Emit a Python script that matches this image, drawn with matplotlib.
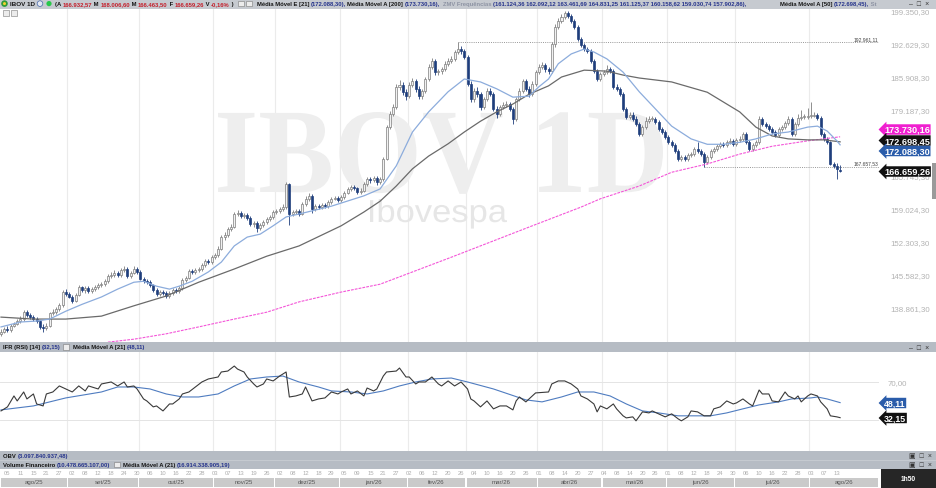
import matplotlib
matplotlib.use("Agg")
import matplotlib.pyplot as plt
import matplotlib.transforms as mtransforms
from matplotlib.patches import Rectangle, Circle, PathPatch
from matplotlib.textpath import TextPath
from matplotlib.font_manager import FontProperties

plt.rcParams['font.family'] = ['Liberation Sans', 'DejaVu Sans']

# ---------------- cotações diárias IBOV (milhares de pontos) ----------------
abertura = [
    133.6, 134.0, 134.6, 134.4, 135.2, 135.6, 136.2, 136.6, 138.0, 137.4,
    137.0, 136.6, 136.2, 135.0, 134.8, 135.2, 137.8, 138.0, 138.6, 139.4,
    142.1, 141.7, 141.1, 140.3, 141.5, 143.1, 142.5, 142.9, 142.3, 142.7,
    143.1, 143.5, 143.7, 144.3, 145.4, 145.6, 146.0, 145.6, 146.6, 146.8,
    145.4, 146.0, 146.8, 146.2, 144.8, 144.3, 144.1, 143.5, 142.5, 141.7,
    142.1, 141.9, 141.3, 141.9, 142.5, 142.3, 142.9, 144.5, 145.0, 146.4,
    146.2, 146.6, 146.8, 147.6, 148.4, 148.2, 149.2, 149.6, 150.9, 153.3,
    153.7, 154.9, 155.4, 158.0, 158.2, 157.6, 157.8, 157.2, 155.9, 156.1,
    155.1, 155.7, 156.3, 157.0, 157.4, 158.4, 158.6, 159.0, 159.4, 164.1,
    158.0, 158.4, 158.6, 158.0, 160.0, 161.1, 161.7, 159.0, 159.6, 159.4,
    159.8, 159.6, 160.5, 161.1, 161.3, 160.9, 161.5, 162.3, 163.1, 163.5,
    163.3, 162.5, 162.7, 164.1, 165.1, 164.9, 165.3, 164.5, 165.1, 169.2,
    175.7, 178.4, 179.8, 183.9, 184.3, 182.8, 182.0, 184.3, 185.1, 183.5,
    182.0, 183.1, 185.5, 188.0, 189.2, 186.9, 187.1, 187.5, 188.6, 189.2,
    189.6, 191.0, 191.6, 191.2, 190.0, 184.5, 181.4, 183.1, 182.4, 179.8,
    181.4, 183.1, 182.4, 179.4, 178.4, 179.8, 180.2, 180.4, 179.4, 177.4,
    181.4, 183.1, 185.1, 183.5, 182.4, 184.5, 186.9, 188.0, 188.4, 187.5,
    187.1, 192.6, 196.1, 197.3, 198.1, 198.9, 198.3, 197.3, 196.1, 193.6,
    192.4, 191.6, 191.2, 189.2, 187.1, 185.5, 186.5, 186.9, 187.5, 187.1,
    183.9, 183.5, 182.4, 179.4, 177.8, 178.2, 177.4, 176.3, 174.3, 175.7,
    176.9, 177.4, 177.4, 176.7, 175.3, 174.7, 173.7, 172.7, 172.1, 170.8,
    169.2, 169.6, 169.2, 170.0, 170.2, 171.2, 170.8, 170.2, 168.6, 169.6,
    170.8, 171.2, 171.8, 172.2, 172.0, 172.6, 172.9, 172.2, 173.1, 173.3,
    174.3, 172.6, 171.2, 172.0, 172.6, 177.4, 176.3, 175.9, 175.3, 174.7,
    174.1, 175.3, 175.7, 176.5, 177.4, 174.3, 176.3, 177.6, 177.8, 177.8,
    178.0, 178.0, 178.2, 177.6, 174.3, 173.3, 172.6, 168.2, 167.8, 166.93257,
]
maxima = [
    134.5, 135.0, 135.1, 135.6, 136.0, 136.6, 137.2, 138.5, 138.4, 137.8,
    137.4, 137.1, 136.5, 135.6, 135.7, 138.1, 138.6, 139.0, 139.8, 142.6,
    142.8, 142.2, 141.5, 141.9, 143.6, 143.4, 143.3, 143.3, 143.1, 143.6,
    143.9, 144.1, 144.7, 145.8, 146.1, 146.5, 146.4, 147.1, 147.5, 147.2,
    146.4, 147.4, 147.2, 146.5, 145.2, 144.8, 144.5, 143.8, 142.9, 142.6,
    142.5, 142.3, 142.3, 142.9, 142.9, 143.3, 144.9, 145.4, 146.8, 146.9,
    147.0, 147.2, 148.0, 148.9, 148.8, 149.6, 150.0, 151.4, 153.7, 154.3,
    155.3, 155.9, 158.5, 158.8, 158.6, 158.3, 158.2, 157.5, 156.6, 156.5,
    156.1, 156.7, 157.4, 157.8, 158.8, 159.0, 159.4, 160.0, 164.6, 164.4,
    158.9, 159.1, 159.0, 160.4, 161.6, 162.3, 162.0, 160.0, 160.0, 160.2,
    160.2, 160.9, 161.5, 161.7, 161.7, 161.9, 162.7, 163.5, 163.9, 164.0,
    163.6, 163.2, 164.5, 165.6, 165.6, 165.8, 165.7, 165.5, 169.7, 176.2,
    178.9, 180.4, 184.4, 185.2, 184.8, 183.4, 184.8, 185.8, 185.5, 184.0,
    183.5, 186.0, 188.5, 189.8, 189.6, 187.6, 188.0, 189.1, 189.7, 190.2,
    191.5, 192.96111, 192.3, 191.7, 190.4, 185.0, 183.6, 183.8, 182.9, 181.9,
    183.6, 183.7, 182.8, 179.9, 180.3, 180.8, 181.0, 180.9, 179.8, 181.9,
    183.6, 185.6, 185.5, 184.0, 185.0, 187.4, 188.6, 189.0, 188.8, 188.0,
    193.1, 196.6, 197.9, 198.8, 199.4, 199.3, 198.8, 197.7, 196.5, 194.0,
    192.8, 192.0, 191.6, 189.6, 187.5, 187.0, 187.4, 188.4, 188.0, 187.5,
    184.4, 183.9, 182.8, 179.8, 178.7, 178.7, 177.9, 176.7, 176.2, 177.7,
    177.9, 177.9, 177.8, 177.1, 175.7, 175.2, 174.1, 173.1, 172.5, 171.2,
    170.0, 170.1, 170.4, 170.7, 171.6, 172.6, 171.2, 170.6, 170.0, 171.2,
    171.7, 172.3, 172.6, 172.6, 173.1, 173.4, 173.3, 173.5, 173.8, 174.8,
    174.7, 173.0, 172.4, 173.0, 177.9, 177.8, 176.7, 176.3, 175.7, 175.1,
    175.7, 176.1, 176.9, 177.9, 177.8, 176.7, 178.4, 179.2, 178.3, 179.6,
    180.8, 178.7, 178.6, 177.9, 174.7, 173.7, 172.9, 168.6, 168.3, 168.00660,
]
minima = [
    133.1, 133.7, 134.0, 134.0, 134.9, 135.3, 135.9, 136.3, 137.0, 136.6,
    136.2, 135.8, 134.5, 134.0, 134.4, 134.9, 137.4, 137.6, 138.3, 139.1,
    141.3, 140.8, 139.9, 140.0, 141.2, 142.1, 142.0, 141.9, 141.9, 142.4,
    142.7, 143.1, 143.4, 144.0, 145.0, 145.2, 145.2, 145.2, 146.2, 145.0,
    145.0, 145.7, 145.8, 144.5, 143.9, 143.7, 143.1, 142.1, 141.2, 141.3,
    141.5, 140.9, 140.9, 141.5, 141.9, 141.9, 142.6, 144.1, 144.7, 145.8,
    145.8, 146.2, 146.4, 147.3, 147.8, 147.9, 148.8, 149.3, 150.6, 152.8,
    153.3, 154.5, 155.1, 157.5, 157.2, 157.2, 156.8, 155.5, 155.4, 154.4,
    154.7, 155.3, 155.9, 156.6, 157.0, 158.0, 158.2, 158.6, 159.0, 155.8,
    157.5, 158.0, 157.6, 157.7, 159.6, 160.7, 158.3, 158.6, 159.0, 159.0,
    159.2, 159.3, 160.1, 160.8, 160.5, 160.5, 161.1, 162.0, 162.7, 162.9,
    162.1, 162.1, 162.4, 163.7, 164.4, 164.5, 164.0, 164.2, 164.8, 168.9,
    175.3, 177.9, 179.4, 183.3, 182.3, 181.3, 181.6, 183.9, 182.9, 181.5,
    181.5, 182.7, 185.1, 187.6, 186.4, 186.3, 186.6, 187.1, 188.1, 188.7,
    189.1, 190.5, 190.6, 189.5, 184.0, 180.9, 180.9, 181.9, 179.2, 179.4,
    181.0, 182.0, 179.0, 177.6, 178.0, 179.3, 179.7, 178.9, 176.3, 177.0,
    181.0, 182.7, 183.0, 181.9, 182.0, 184.1, 186.5, 187.5, 187.0, 186.6,
    186.8, 192.1, 195.7, 196.9, 197.7, 197.9, 196.9, 195.7, 193.2, 192.0,
    191.2, 190.8, 188.8, 186.7, 185.1, 185.1, 186.1, 186.5, 186.7, 183.5,
    183.0, 182.0, 179.0, 177.3, 177.3, 177.0, 175.9, 173.9, 173.9, 175.3,
    176.5, 176.9, 176.3, 174.9, 174.2, 173.3, 172.3, 171.7, 170.4, 168.8,
    168.8, 168.8, 168.8, 169.6, 169.8, 170.4, 169.8, 167.65753, 168.2, 169.2,
    170.4, 170.8, 171.4, 171.6, 171.6, 172.2, 171.8, 171.8, 172.7, 172.9,
    172.2, 170.8, 170.8, 171.6, 172.2, 175.9, 175.5, 174.9, 174.3, 173.7,
    173.7, 174.9, 175.3, 176.1, 173.9, 173.9, 175.9, 177.2, 177.3, 177.4,
    177.5, 177.7, 177.2, 173.9, 172.9, 172.2, 167.9, 167.3, 165.2, 166.46350,
]
fechamento = [
    134.0, 134.6, 134.4, 135.2, 135.6, 136.2, 136.6, 138.0, 137.4, 137.0,
    136.6, 136.2, 135.0, 134.8, 135.2, 137.8, 138.0, 138.6, 139.4, 142.1,
    141.7, 141.1, 140.3, 141.5, 143.1, 142.5, 142.9, 142.3, 142.7, 143.1,
    143.5, 143.7, 144.3, 145.4, 145.6, 146.0, 145.6, 146.6, 146.8, 145.4,
    146.0, 146.8, 146.2, 144.8, 144.3, 144.1, 143.5, 142.5, 141.7, 142.1,
    141.9, 141.3, 141.9, 142.5, 142.3, 142.9, 144.5, 145.0, 146.4, 146.2,
    146.6, 146.8, 147.6, 148.4, 148.2, 149.2, 149.6, 150.9, 153.3, 153.7,
    154.9, 155.4, 158.0, 158.2, 157.6, 157.8, 157.2, 155.9, 156.1, 155.1,
    155.7, 156.3, 157.0, 157.4, 158.4, 158.6, 159.0, 159.4, 164.1, 158.0,
    158.4, 158.6, 158.0, 160.0, 161.1, 161.7, 159.0, 159.6, 159.4, 159.8,
    159.6, 160.5, 161.1, 161.3, 160.9, 161.5, 162.3, 163.1, 163.5, 163.3,
    162.5, 162.7, 164.1, 165.1, 164.9, 165.3, 164.5, 165.1, 169.2, 175.7,
    178.4, 179.8, 183.9, 184.3, 182.8, 182.0, 184.3, 185.1, 183.5, 182.0,
    183.1, 185.5, 188.0, 189.2, 186.9, 187.1, 187.5, 188.6, 189.2, 189.6,
    191.0, 191.6, 191.2, 190.0, 184.5, 181.4, 183.1, 182.4, 179.8, 181.4,
    183.1, 182.4, 179.4, 178.4, 179.8, 180.2, 180.4, 179.4, 177.4, 181.4,
    183.1, 185.1, 183.5, 182.4, 184.5, 186.9, 188.0, 188.4, 187.5, 187.1,
    192.6, 196.1, 197.3, 198.1, 198.9, 198.3, 197.3, 196.1, 193.6, 192.4,
    191.6, 191.2, 189.2, 187.1, 185.5, 186.5, 186.9, 187.5, 187.1, 183.9,
    183.5, 182.4, 179.4, 177.8, 178.2, 177.4, 176.3, 174.3, 175.7, 176.9,
    177.4, 177.4, 176.7, 175.3, 174.7, 173.7, 172.7, 172.1, 170.8, 169.2,
    169.6, 169.2, 170.0, 170.2, 171.2, 170.8, 170.2, 168.6, 169.6, 170.8,
    171.2, 171.8, 172.2, 172.0, 172.6, 172.9, 172.2, 173.1, 173.3, 174.3,
    172.6, 171.2, 172.0, 172.6, 177.4, 176.3, 175.9, 175.3, 174.7, 174.1,
    175.3, 175.7, 176.5, 177.4, 174.3, 176.3, 177.6, 177.8, 177.8, 178.0,
    178.0, 178.2, 177.6, 174.3, 173.3, 172.6, 168.2, 167.8, 167.2, 166.65926,
]

# meses e pregões por mês
meses = ["ago/25", "set/25", "out/25", "nov/25", "dez/25", "jan/26", "fev/26",
         "mar/26", "abr/26", "mai/26", "jun/26", "jul/26", "ago/26"]
pregoes_mes = [21, 22, 23, 19, 20, 21, 18, 22, 20, 20, 21, 23, 10]
dias_rotulo = ["05", "11", "15", "21", "27", "02", "08", "12", "18", "24", "30",
               "06", "10", "16", "22", "28", "03", "07", "13", "19", "26",
               "02", "08", "12", "18", "29", "05", "09", "15", "21", "27",
               "02", "06", "12", "20", "26", "04", "10", "16", "20", "26",
               "01", "08", "14", "20", "27", "04", "08", "14", "20", "26",
               "01", "08", "12", "18", "24", "30", "06", "10", "16", "22", "28",
               "03", "07", "13"]

# médias móveis (pregão, valor)
mme21_x = [0, 6, 11, 15, 20, 25, 31, 36, 41, 44, 48, 52, 55, 59, 64, 68, 72, 76, 80, 84,
           88, 92, 102, 112, 117, 122, 127, 132, 138, 143, 148, 153, 158, 163, 166, 169,
           172, 176, 180, 183, 187, 192, 197, 202, 207, 213, 218, 223, 228, 233, 238, 243,
           249, 252, 255, 258, 259]
mme21 = [135.0, 136.0, 136.2, 136.6, 138.2, 139.6, 141.1, 142.7, 144.1, 144.3, 143.3,
         142.7, 143.3, 144.3, 146.2, 148.2, 151.5, 153.3, 153.9, 155.6, 157.4, 158.0,
         159.6, 161.7, 163.1, 167.8, 174.7, 178.8, 182.9, 185.5, 184.9, 183.5, 181.8,
         182.0, 183.9, 185.5, 188.6, 190.6, 191.6, 191.0, 189.6, 186.9, 182.9, 179.4,
         175.9, 173.3, 172.2, 172.2, 172.6, 173.3, 174.3, 174.7, 175.7, 175.9, 174.9,
         172.9, 172.0883]
mma50_x = [0, 10, 20, 31, 41, 51, 61, 72, 82, 92, 105, 112, 117, 122, 127, 132, 138, 143,
           148, 153, 158, 163, 169, 173, 180, 187, 192, 197, 207, 218, 228, 233, 238, 243,
           249, 254, 259]
mma50 = [137.0, 136.6, 136.6, 137.2, 139.3, 141.3, 144.1, 146.8, 149.4, 151.5, 155.6,
         158.4, 160.6, 163.7, 167.2, 169.8, 172.3, 174.7, 176.9, 178.8, 180.4, 182.4,
         184.1, 185.9, 187.3, 187.1, 186.3, 185.7, 184.9, 182.8, 178.8, 175.7, 173.9,
         173.3, 173.1, 173.1, 172.69845]
mma200_x = [33, 41, 51, 61, 72, 82, 92, 105, 117, 139, 164, 179, 185, 197, 207, 218, 228,
            238, 249, 259]
mma200 = [131.9, 132.5, 133.6, 135.0, 136.6, 138.0, 140.1, 142.1, 143.7, 149.2, 155.6,
          159.4, 161.1, 163.7, 166.5, 168.2, 170.2, 171.8, 172.9, 173.73016]

# IFR (14) e sua média (21)
ifr_x = [0, 2, 4, 5, 7, 8, 10, 11, 13, 14, 16, 18, 20, 22, 24, 26, 27, 30, 31, 34, 36, 38,
         39, 41, 42, 44, 45, 47, 48, 50, 52, 53, 55, 56, 58, 60, 62, 64, 67, 68, 70, 72,
         73, 75, 76, 78, 79, 81, 82, 84, 86, 88, 89, 91, 93, 94, 96, 98, 100, 102, 104,
         105, 107, 108, 110, 112, 113, 115, 116, 118, 119, 122, 123, 125, 126, 128, 129,
         131, 133, 135, 136, 138, 140, 142, 144, 145, 146, 147, 148, 150, 152, 154, 156,
         158, 159, 160, 162, 164, 165, 169, 170, 172, 174, 176, 178, 179, 181, 183, 184,
         185, 187, 189, 190, 192, 193, 195, 196, 198, 200, 201, 203, 205, 207, 209, 210,
         212, 213, 215, 217, 219, 220, 222, 224, 226, 227, 229, 231, 232, 234, 235, 237,
         238, 240, 242, 243, 245, 246, 247, 249, 250, 252, 253, 255, 256, 258, 259]
ifr = [39.3, 43.6, 55.2, 49.9, 59.4, 52.0, 57.3, 46.7, 44.6, 57.3, 59.4, 65.8, 62.6, 59.4,
       65.8, 60.5, 65.8, 62.6, 67.9, 70.0, 65.8, 70.0, 64.7, 65.8, 62.6, 52.0, 49.9, 43.6,
       44.6, 39.3, 46.7, 46.7, 52.0, 57.3, 59.4, 64.7, 70.0, 73.2, 75.3, 80.6, 81.6, 86.9,
       83.7, 80.6, 75.3, 67.9, 64.7, 67.9, 73.2, 71.1, 76.3, 80.6, 54.1, 55.2, 57.3, 64.7,
       49.9, 52.0, 53.1, 59.4, 57.3, 59.4, 62.6, 57.3, 60.5, 55.2, 63.6, 60.5, 62.6, 76.3,
       80.6, 81.6, 84.8, 75.3, 75.3, 67.9, 70.0, 70.0, 75.3, 67.9, 65.8, 71.1, 65.8, 70.0,
       62.6, 52.0, 49.9, 46.7, 43.6, 49.9, 41.5, 44.6, 44.6, 40.4, 49.9, 54.1, 48.9, 55.2,
       58.4, 59.4, 67.9, 71.1, 71.1, 67.9, 62.6, 55.2, 52.0, 46.7, 38.3, 44.6, 41.5, 46.7,
       41.5, 34.1, 31.9, 33.0, 28.8, 38.3, 37.2, 39.3, 36.2, 33.0, 36.2, 30.9, 28.8, 33.0,
       39.3, 38.3, 34.1, 34.1, 41.5, 43.6, 49.9, 46.7, 47.8, 52.0, 46.7, 44.6, 61.5, 57.3,
       57.3, 49.9, 48.9, 59.4, 55.2, 52.0, 55.2, 48.9, 55.2, 57.3, 55.2, 48.9, 41.5, 34.1,
       33.0, 32.15]
ifr_mm_x = [0, 10, 20, 31, 36, 41, 46, 51, 56, 61, 67, 72, 77, 82, 87, 92, 98, 102, 108,
            113, 118, 123, 128, 133, 139, 144, 152, 162, 167, 173, 178, 183, 188, 193, 198,
            203, 209, 214, 219, 224, 229, 234, 240, 244, 250, 252, 255, 259]
ifr_mm = [40.4, 44.6, 53.1, 59.4, 64.7, 64.7, 62.6, 57.3, 54.1, 54.1, 57.3, 65.8, 73.2,
          75.3, 76.3, 70.0, 64.7, 60.5, 59.4, 57.3, 60.5, 65.8, 70.0, 73.2, 74.2, 70.0,
          62.6, 51.0, 48.9, 54.1, 59.4, 59.4, 55.2, 46.7, 39.3, 37.2, 34.1, 34.1, 34.1,
          37.2, 41.5, 45.7, 48.9, 52.0, 53.1, 54.1, 52.0, 48.11]

precos_eixo = [199.3503, 192.6293, 185.9083, 179.1873, 172.4663, 165.7453, 159.0243,
               152.3033, 145.5823, 138.8613]
linhas_ref = [(141, 192.96111), (217, 167.65753)]

# ---------------- figura ----------------
W, H = 936, 489
fig = plt.figure(figsize=(W / 100, H / 100), dpi=100)
fig.patch.set_facecolor('white')


def caixa(x0, y0, x1, y1):
    return [x0 / W, 1 - y1 / H, (x1 - x0) / W, (y1 - y0) / H]


def br(v, mil=True):
    s = f"{v * 1000 if mil else v:,.2f}"
    return s.replace(',', 'X').replace('.', ',').replace('X', '.')


ax = fig.add_axes(caixa(0, 9, 879, 343))
ax_ifr = fig.add_axes(caixa(0, 353, 879, 452))
ax_dt = fig.add_axes(caixa(0, 470, 879, 489))
ov = fig.add_axes([0, 0, 1, 1])
ov.set_xlim(0, W)
ov.set_ylim(H, 0)
ov.axis('off')

X_MIN, X_MAX = -0.31, 271
n = len(fechamento)
xs = list(range(n))

inicio_mes = []
acc = 0
for q in pregoes_mes:
    inicio_mes.append(acc - 0.5)
    acc += q

# marca d'água
top_px = mtransforms.Affine2D().scale(1 / W, -1 / H).translate(0, 1) + fig.transFigure


def marca(texto, x0, x1, y_topo, y_base, familia, peso, cor):
    tp = TextPath((0, 0), texto, size=100, prop=FontProperties(family=familia, weight=peso))
    bb = tp.get_extents()
    sx = (x1 - x0) / bb.width
    sy = (y_base - y_topo) / bb.y1
    tr = mtransforms.Affine2D().translate(-bb.x0, 0).scale(sx, -sy).translate(x0, y_base) + top_px
    ax.add_artist(PathPatch(tp, transform=tr, facecolor=cor, edgecolor='none', zorder=0.5))


marca("IBOV 1D", 218, 663, 113, 193, 'Liberation Serif', 'bold', '#eeeeee')
marca("Ibovespa", 370, 507, 200, 223, 'Liberation Sans', 'normal', '#e6e6e6')

# grade vertical por mês
for b in inicio_mes[1:]:
    ax.axvline(b, color='#ebebeb', lw=0.8, zorder=0.3)
    ax_ifr.axvline(b, color='#ebebeb', lw=0.8, zorder=0.3)

# candles
cinza, azul = '#7d7d7d', '#1f3e7c'
alta = [c >= o for o, c in zip(abertura, fechamento)]
ax.vlines(xs, minima, maxima, colors=[cinza if a else azul for a in alta], lw=0.6, zorder=3)
ax.bar(xs, [max(abs(c - o), 0.12) for o, c in zip(abertura, fechamento)],
       bottom=[min(o, c) for o, c in zip(abertura, fechamento)], width=0.62,
       color=['#f1f1f1' if a else azul for a in alta],
       edgecolor=[cinza if a else azul for a in alta], linewidth=0.5, zorder=4)

# médias
ax.plot(mma200_x, mma200, color='#f455d8', lw=0.8, ls=(0, (2.5, 1)), zorder=5)
ax.plot(mma50_x, mma50, color='#6a6a6a', lw=0.9, zorder=5)
ax.plot(mme21_x, mme21, color='#8cacdc', lw=0.9, zorder=5)

# linhas de referência (máxima / mínima)
for i0, v in linhas_ref:
    ax.hlines(v, i0, X_MAX, colors='#8a8a8a', linestyles=(0, (1.2, 1.4)), lw=0.6, zorder=2)
    ax.text(X_MAX - 0.3, v + 0.25, br(v), ha='right', va='bottom', fontsize=3.6, color='#444')

ax.set_xlim(X_MIN, X_MAX)
ax.set_ylim(131.93, 199.96)
ax.set_xticks([])
ax.yaxis.tick_right()
ax.set_yticks(precos_eixo)
ax.set_yticklabels([br(v) for v in precos_eixo])
ax.tick_params(axis='y', length=0, pad=8, labelsize=5.7, labelcolor='#b3b3b3')
for s in ax.spines.values():
    s.set_visible(False)

# IFR
ax_ifr.axhline(70, color='#e4e4e4', lw=0.7, zorder=0.3)
ax_ifr.axhline(30, color='#e4e4e4', lw=0.7, zorder=0.3)
ax_ifr.plot(ifr_mm_x, ifr_mm, color='#4f7cc0', lw=0.8, zorder=3)
ax_ifr.plot(ifr_x, ifr, color='#3a3a3a', lw=0.8, zorder=4)
ax_ifr.set_xlim(X_MIN, X_MAX)
ax_ifr.set_ylim(-3.2, 101.8)
ax_ifr.set_xticks([])
ax_ifr.yaxis.tick_right()
ax_ifr.set_yticks([70])
ax_ifr.set_yticklabels([br(70, False)])
ax_ifr.tick_params(axis='y', length=0, pad=6.5, labelsize=5.7, labelcolor='#b3b3b3')
for s in ax_ifr.spines.values():
    s.set_visible(False)

# faixa de datas
ax_dt.set_xlim(X_MIN, X_MAX)
ax_dt.set_ylim(19, 0)
ax_dt.axis('off')
for k, m in enumerate(meses):
    x0 = inicio_mes[k] if k else X_MIN
    x1 = inicio_mes[k + 1] if k + 1 < len(inicio_mes) else X_MAX
    ax_dt.add_patch(Rectangle((x0 + 0.2, 8.5), x1 - x0 - 0.4, 9, fc='#cacaca', ec='none'))
    ax_dt.text((x0 + x1) / 2, 13, m, ha='center', va='center', fontsize=4.4, color='#555')
for j, d in enumerate(dias_rotulo):
    ax_dt.text(2 + 4 * j, 3.6, d, ha='center', va='center', fontsize=4.2, color='#aeaeae')

# ---------------- barras de título / rótulos ----------------
ov.add_patch(Rectangle((0, 0), W, 9.5, fc='#c6cad0', ec='none'))
ov.add_patch(Rectangle((0, 343), W, 10, fc='#b6bcc4', ec='none'))
ov.add_patch(Rectangle((0, 452), W, 18, fc='#b6bcc4', ec='none'))
ov.plot([0, W], [461, 461], color='#c9cdd3', lw=0.6)
ov.add_patch(Rectangle((881, 470), 55, 19, fc='#262626', ec='none'))
ov.text(908.5, 479.5, "1h50", color='white', fontsize=4.8, fontweight='bold', ha='center', va='center')
ov.add_patch(Rectangle((932, 164), 4, 36, fc='#9a9a9a', ec='none'))

preto, azul_v, verm, apag = '#151515', '#26348c', '#c41e2a', '#8d93a3'


def linha(x, y, partes, tam=4.2):
    prev = None
    for texto, cor in partes:
        if prev is None:
            prev = ov.text(x, y, texto, color=cor, fontsize=tam, fontweight='bold', ha='left', va='center')
        else:
            prev = ov.annotate(texto, xy=(1, 0), xycoords=prev, color=cor, fontsize=tam,
                               fontweight='bold', ha='left', va='bottom')


def icone(x, y):
    ov.add_patch(Rectangle((x, y - 2.8), 5.5, 5.5, fc='#ececec', ec='#7a7a7a', lw=0.4))


# cabeçalho principal
ov.add_patch(Circle((4.5, 4.6), 3.3, fc='#2f9a3a', ec='none'))
ov.add_patch(Circle((4.5, 4.6), 1.5, fc='#f2d22e', ec='none'))
linha(10, 4.6, [("IBOV 1D", preto)], tam=4.5)
ov.add_patch(Circle((40, 4.6), 2.8, fc='#e4e9f2', ec='#4466aa', lw=0.5))
ov.add_patch(Circle((49, 4.6), 2.6, fc='#27c84a', ec='none'))
linha(55, 4.6, [("(A ", preto), (br(abertura[-1]), verm), (" M ", preto), (br(maxima[-1]), verm),
                (" M ", preto), (br(minima[-1]), verm), (" F ", preto), (br(fechamento[-1]), verm),
                (" V ", preto), ("-0,16%", verm), (" )", preto)])
icone(238, 4.6)
icone(246, 4.6)
linha(257, 4.6, [("Média Móvel E [21] ", preto), (f"({br(mme21[-1])}),", azul_v)])
linha(347, 4.6, [("Média Móvel A [200] ", preto), (f"({br(mma200[-1])}),", azul_v)])
linha(443, 4.6, [("ZMV Frequências ", apag),
                 ("(161.124,36 162.092,12 163.461,69 164.831,25 161.125,37 160.158,62 "
                  "159.030,74 157.902,86),", azul_v)])
linha(780, 4.6, [("Média Móvel A [50] ", preto), (f"({br(mma50[-1])}),", azul_v), (" St", apag)])
ov.text(909, 4.6, "–  □  ×", fontsize=5, color='#333', ha='left', va='center')

icone(3, 14)
icone(11, 14)

# cabeçalho IFR
linha(3, 348, [("IFR (RSI) [14] ", preto), (f"({br(ifr[-1], False)})", azul_v)])
icone(63, 348)
linha(73, 348, [("Média Móvel A [21] ", preto), (f"({br(ifr_mm[-1], False)})", azul_v)])
ov.text(909, 348, "–  □  ×", fontsize=5, color='#333', ha='left', va='center')

# cabeçalhos OBV / volume
linha(3, 456.5, [("OBV ", preto), ("(3.097.840.937,48)", azul_v)])
linha(3, 465.5, [("Volume Financeiro ", preto), ("(10.478.665.107,00)", azul_v)])
icone(114, 465.5)
linha(123, 465.5, [("Média Móvel A (21) ", preto), ("(16.914.338.905,19)", azul_v)])
ov.text(909, 456.5, "▣  □  ×", fontsize=5, color='#333', ha='left', va='center')
ov.text(909, 465.5, "▣  □  ×", fontsize=5, color='#333', ha='left', va='center')


# etiquetas de valor no eixo
def etiqueta(y, texto, cor, tam=6.6):
    ov.text(884, y, texto, color='white', fontsize=tam, fontweight='bold', ha='left', va='center',
            bbox=dict(boxstyle='larrow,pad=0.08', fc=cor, ec='none'))


etiqueta(130.5, br(mma200[-1]), '#f01fd0')
etiqueta(141.5, br(mma50[-1]), '#111111')
etiqueta(152, br(mme21[-1]), '#2a5caa')
etiqueta(172.5, br(fechamento[-1]), '#111111')
etiqueta(404, br(ifr_mm[-1], False), '#2a5caa', 6.4)
etiqueta(419, br(ifr[-1], False), '#111111', 6.4)

fig.savefig('out.png', dpi=100)
